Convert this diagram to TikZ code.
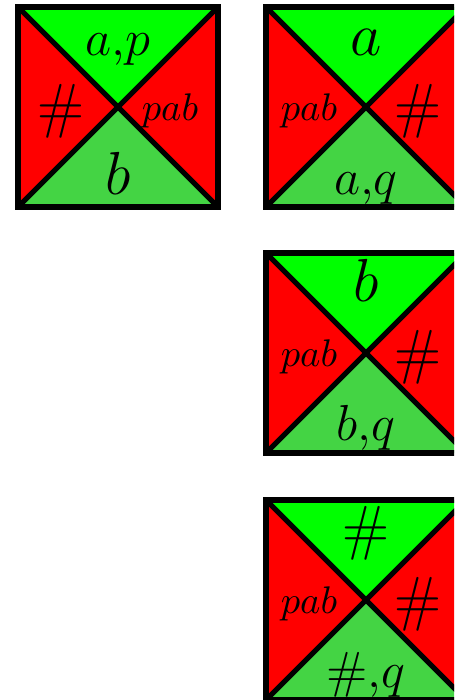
\documentclass[tikz,border=0pt]{standalone}
\usetikzlibrary{positioning}
\definecolor{topgreen}{RGB}{0,255,0}
\definecolor{botgreen}{RGB}{68,212,68}
\definecolor{sidered}{RGB}{255,0,0}
\tikzset{
  diag/.style={line width=1.5pt},
  frame/.style={line width=1.9pt},
  symlbl/.style={inner sep=0pt, font=\fontsize{16}{18}\selectfont},
  pairlbl/.style={inner sep=0pt, font=\fontsize{14.5}{16}\selectfont},
  wordlbl/.style={inner sep=0pt, font=\fontsize{10.5}{12}\selectfont},
}
% one tile: name, centre
\newcommand{\wangtile}[2]{%
  \begin{scope}[shift={#2}]
    \fill[topgreen] (-100,-100) -- (100,-100) -- (0,0) -- cycle;
    \fill[botgreen] (-100,100) -- (100,100) -- (0,0) -- cycle;
    \fill[sidered] (-100,-100) -- (-100,100) -- (0,0) -- cycle;
    \fill[sidered] (100,-100) -- (100,100) -- (0,0) -- cycle;
    \draw[diag] (-100,-100) -- (100,100) (-100,100) -- (100,-100);
    \draw[frame] (-100,-100) rectangle (100,100);
    \coordinate (#1-n) at (0,-52);
    \coordinate (#1-s) at (0,87);
    \coordinate (#1-w) at (-57,4);
    \coordinate (#1-e) at (52,4);
  \end{scope}}

\begin{document}
\begin{tikzpicture}[x=0.01cm, y=-0.01cm]

  \clip (0,0) rectangle (454,700);

  % =====================================================
  % TILES
  % =====================================================

  \wangtile{start}{(118,107)}
  \wangtile{ta}{(366,107)}
  \wangtile{tb}{(366,353)}
  \wangtile{th}{(366,600)}


  % =====================================================
  % LABELS
  % =====================================================

  \node[pairlbl, anchor=base, at=(start-n)] (start-top) {$a{,}p$};
  \node[wordlbl, at=(start-e)] (start-right) {$pab$};
  \node[symlbl, anchor=base, at=(start-s)] (start-bot) {$b$};
  \node[symlbl, at=(start-w)] (start-left) {$\#$};

  \node[symlbl, anchor=base, at=(ta-n)] (ta-top) {$a$};
  \node[symlbl, at=(ta-e)] (ta-right) {$\#$};
  \node[pairlbl, anchor=base, at=(ta-s)] (ta-bot) {$a{,}q$};
  \node[wordlbl, at=(ta-w)] (ta-left) {$pab$};

  \node[symlbl, anchor=base, at=(tb-n)] (tb-top) {$b$};
  \node[symlbl, at=(tb-e)] (tb-right) {$\#$};
  \node[pairlbl, anchor=base, at=(tb-s)] (tb-bot) {$b{,}q$};
  \node[wordlbl, at=(tb-w)] (tb-left) {$pab$};

  \node[symlbl, anchor=base, at=(th-n)] (th-top) {$\#$};
  \node[symlbl, at=(th-e)] (th-right) {$\#$};
  \node[pairlbl, anchor=base, at=(th-s)] (th-bot) {$\#{,}q$};
  \node[wordlbl, at=(th-w)] (th-left) {$pab$};

\end{tikzpicture}
\end{document}
